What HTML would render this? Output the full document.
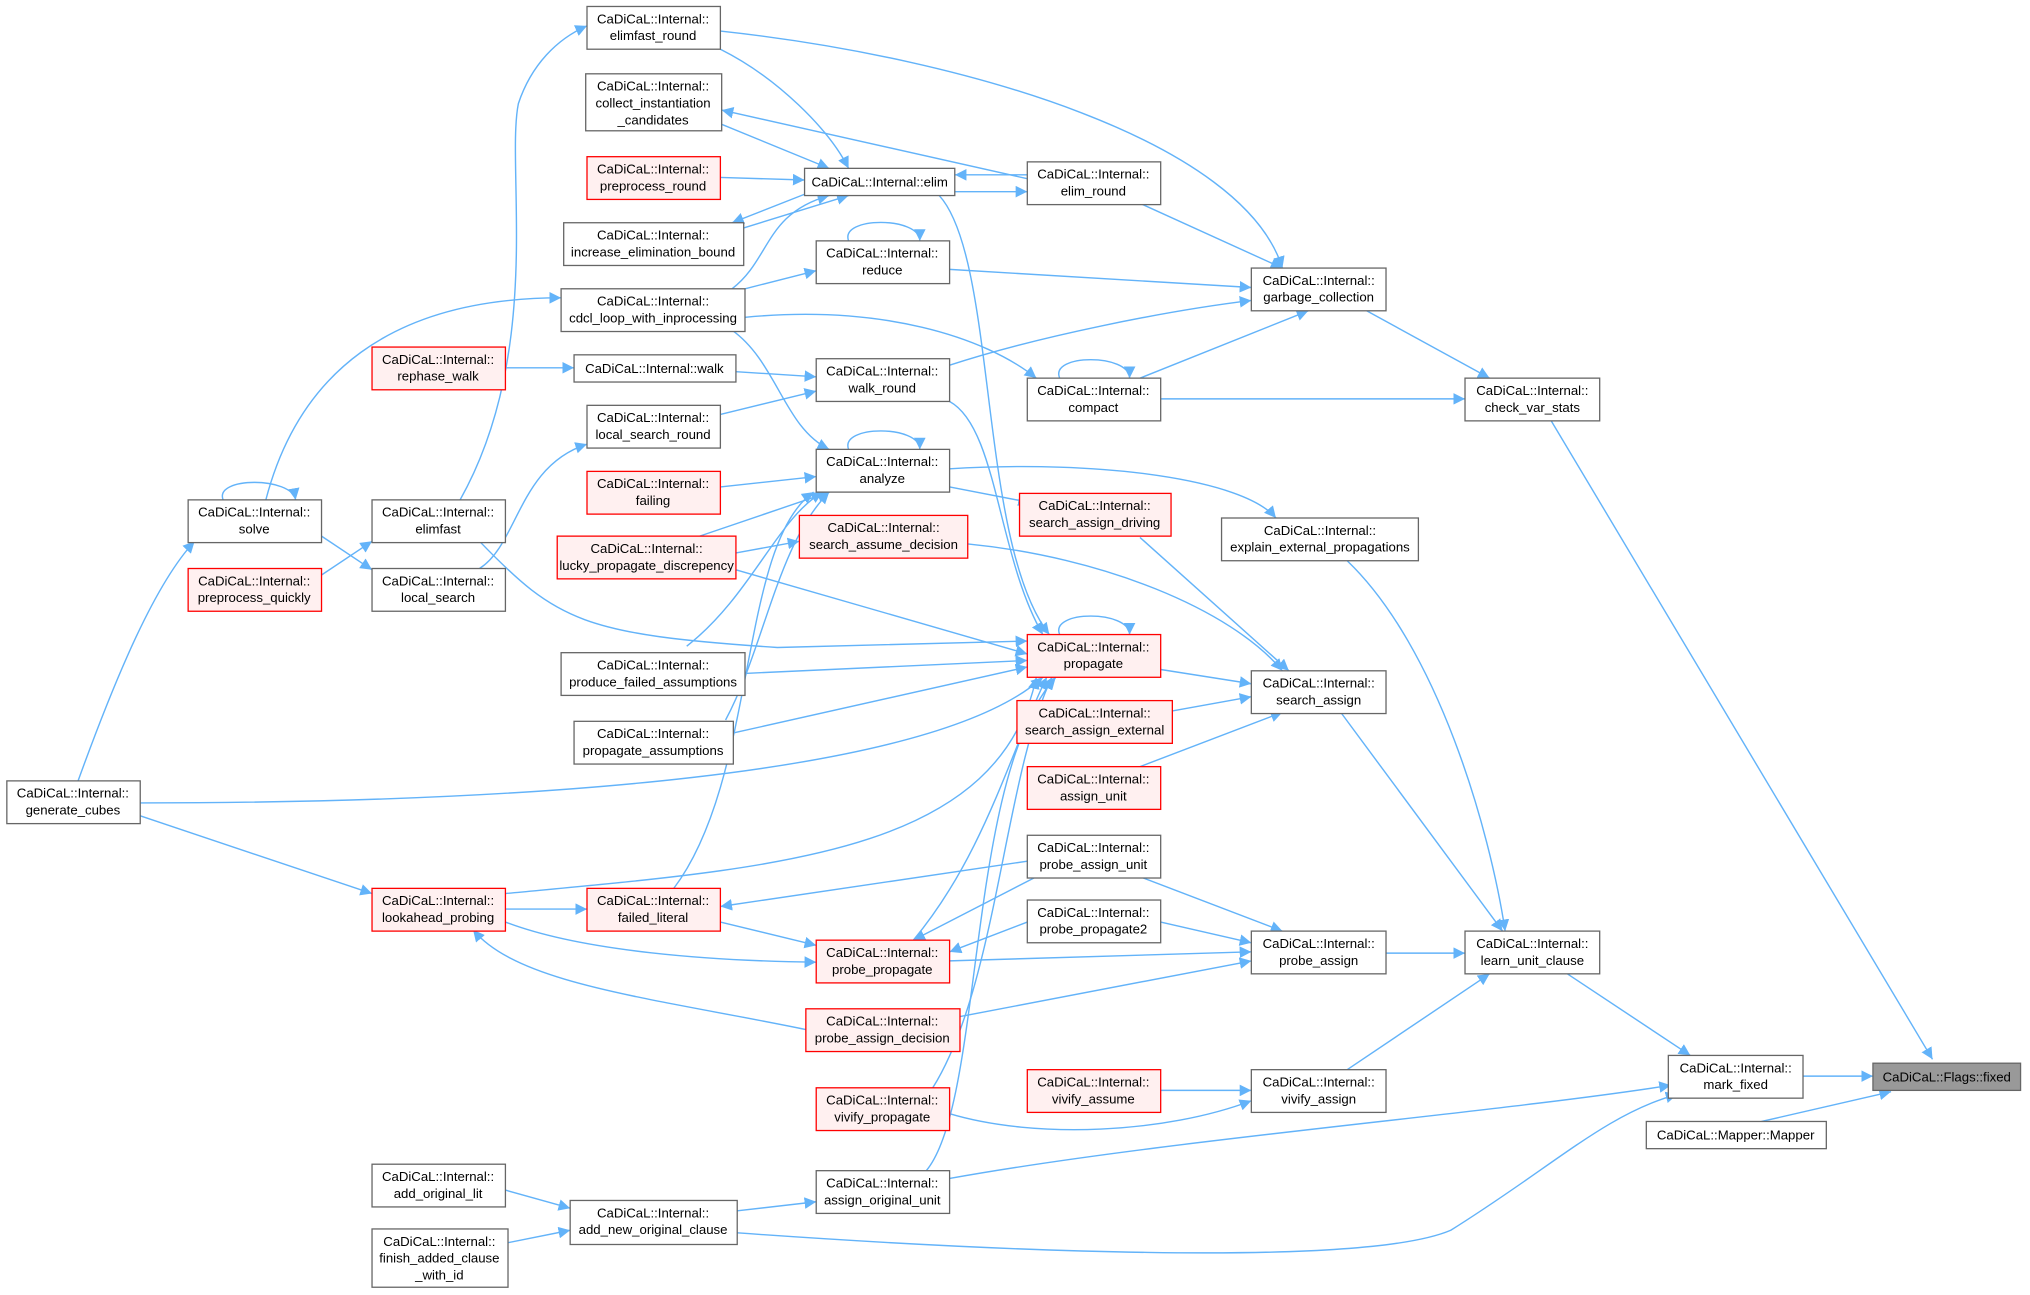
<!DOCTYPE html>
<html><head><meta charset="utf-8"><style>
html,body{margin:0;padding:0;background:#fff;}
svg{display:block;}
text{font-family:"Liberation Sans",Arial,sans-serif;font-size:10.2px;fill:#000;text-anchor:middle;}
.n rect{fill:#fff;stroke:#666;stroke-width:1;}
.r rect{fill:#fff0f0;stroke:#f00;stroke-width:1;}
.g rect{fill:#999;stroke:#666;stroke-width:1;}
path.e{fill:none;stroke:#63b3f9;stroke-width:1.1;}
</style></head><body>
<svg width="2030" height="1295" viewBox="0 0 1567 1000" xmlns="http://www.w3.org/2000/svg">
<defs><marker id="a" viewBox="0 0 10 10" refX="10" refY="5" markerWidth="9" markerHeight="9" markerUnits="userSpaceOnUse" orient="auto"><path d="M0,0 L10,5 L0,10 z" fill="#63b3f9"/></marker></defs>
<g marker-end="url(#a)">
<path class="e" d="M1197,324 L1492,818"/>
<path class="e" d="M1392,831 L1446,831"/>
<path class="e" d="M1360,866 L1460,843"/>
<path class="e" d="M1210,752 L1305,815"/>
<path class="e" d="M733,910 C900,880 1150,860 1290,838"/>
<path class="e" d="M569,952 C750,965 1050,980 1120,950 C1200,900 1240,860 1295,845"/>
<path class="e" d="M1035,550 L1160,719"/>
<path class="e" d="M1040,433 C1110,500 1150,640 1162,719"/>
<path class="e" d="M1070,736 L1131,736"/>
<path class="e" d="M1040,826 L1150,752"/>
<path class="e" d="M1055,240 L1150,292"/>
<path class="e" d="M896,308 L1131,308"/>
<path class="e" d="M556,24 C750,45 960,110 990,207"/>
<path class="e" d="M880,157 L990,207"/>
<path class="e" d="M733,208 L966,222"/>
<path class="e" d="M733,282 C800,260 900,240 966,232"/>
<path class="e" d="M880,292 L1010,240"/>
<path class="e" d="M575,245 C680,235 760,260 800,292"/>
<path class="e" d="M556,38 C600,60 640,100 655,130"/>
<path class="e" d="M793,138 L557,85"/>
<path class="e" d="M557,96 L640,130"/>
<path class="e" d="M556,137 L621,139"/>
<path class="e" d="M621,150 L565,172"/>
<path class="e" d="M574,176 L655,151"/>
<path class="e" d="M565,223 C595,200 590,165 640,151"/>
<path class="e" d="M793,135 L737,135"/>
<path class="e" d="M737,148 L793,148"/>
<path class="e" d="M725,151 C770,200 755,420 810,490"/>
<path class="e" d="M575,223 L630,209"/>
<path class="e" d="M390,284 L443,284"/>
<path class="e" d="M568,287 L630,291"/>
<path class="e" d="M556,320 L630,302"/>
<path class="e" d="M733,310 C770,330 770,430 805,490"/>
<path class="e" d="M205,386 C230,290 300,230 433,230"/>
<path class="e" d="M355,386 C420,270 390,130 400,80 C410,50 430,30 453,20"/>
<path class="e" d="M248,414 L287,440"/>
<path class="e" d="M248,444 L287,418"/>
<path class="e" d="M370,439 C400,420 400,360 453,343"/>
<path class="e" d="M370,418 C430,480 450,490 600,500 L793,495"/>
<path class="e" d="M565,255 C600,280 605,330 640,347"/>
<path class="e" d="M556,376 L630,368"/>
<path class="e" d="M540,414 L640,380"/>
<path class="e" d="M733,376 L795,388"/>
<path class="e" d="M733,362 C850,355 960,370 985,400"/>
<path class="e" d="M530,499 C580,460 600,400 635,380"/>
<path class="e" d="M560,556 C590,500 600,420 640,380"/>
<path class="e" d="M520,686 C585,600 570,420 628,380"/>
<path class="e" d="M568,427 L617,418"/>
<path class="e" d="M747,420 C850,430 950,470 990,518"/>
<path class="e" d="M880,415 L995,518"/>
<path class="e" d="M896,517 L966,528"/>
<path class="e" d="M905,549 L966,538"/>
<path class="e" d="M880,592 L990,550"/>
<path class="e" d="M568,440 L793,505"/>
<path class="e" d="M575,520 L793,510"/>
<path class="e" d="M566,566 L793,515"/>
<path class="e" d="M108,620 C400,620 720,600 805,523"/>
<path class="e" d="M390,690 C600,670 770,660 800,523"/>
<path class="e" d="M705,726 C760,660 780,580 808,523"/>
<path class="e" d="M720,840 C770,760 775,600 812,523"/>
<path class="e" d="M715,904 C760,850 745,600 815,523"/>
<path class="e" d="M60,603 C90,520 120,450 150,418"/>
<path class="e" d="M108,630 L287,690"/>
<path class="e" d="M390,702 L453,702"/>
<path class="e" d="M793,665 L556,700"/>
<path class="e" d="M800,677 L705,726"/>
<path class="e" d="M793,712 L733,735"/>
<path class="e" d="M556,712 L630,730"/>
<path class="e" d="M390,712 C450,735 550,742 630,743"/>
<path class="e" d="M622,795 C500,770 400,760 365,718"/>
<path class="e" d="M880,677 L990,719"/>
<path class="e" d="M896,712 L966,728"/>
<path class="e" d="M733,742 L966,735"/>
<path class="e" d="M741,785 L966,742"/>
<path class="e" d="M896,842 L966,842"/>
<path class="e" d="M733,860 C800,880 900,875 966,850"/>
<path class="e" d="M390,919 L440,933"/>
<path class="e" d="M390,960 L440,950"/>
<path class="e" d="M569,935 L630,928"/>
<path class="e" d="M172,386 C165,368 225,368 228,386"/>
<path class="e" d="M655,347 C648,328 710,328 710,347"/>
<path class="e" d="M655,186 C648,167 710,167 710,186"/>
<path class="e" d="M818,292 C810,273 872,273 872,292"/>
<path class="e" d="M818,490 C810,471 872,471 872,490"/>
</g>
<g class="n"><rect x="453" y="5" width="103" height="33"/><text x="504" y="18">CaDiCaL::Internal::</text><text x="504" y="31">elimfast_round</text></g>
<g class="n"><rect x="452" y="57" width="105" height="44"/><text x="504" y="70">CaDiCaL::Internal::</text><text x="504" y="83">collect_instantiation</text><text x="504" y="96">_candidates</text></g>
<g class="r"><rect x="453" y="121" width="103" height="33"/><text x="504" y="134">CaDiCaL::Internal::</text><text x="504" y="147">preprocess_round</text></g>
<g class="n"><rect x="435" y="172" width="139" height="33"/><text x="504" y="185">CaDiCaL::Internal::</text><text x="504" y="198">increase_elimination_bound</text></g>
<g class="n"><rect x="433" y="223" width="142" height="33"/><text x="504" y="236">CaDiCaL::Internal::</text><text x="504" y="249">cdcl_loop_with_inprocessing</text></g>
<g class="r"><rect x="287" y="268" width="103" height="33"/><text x="338" y="281">CaDiCaL::Internal::</text><text x="338" y="294">rephase_walk</text></g>
<g class="n"><rect x="443" y="274" width="125" height="21"/><text x="505" y="288">CaDiCaL::Internal::walk</text></g>
<g class="n"><rect x="453" y="313" width="103" height="33"/><text x="504" y="326">CaDiCaL::Internal::</text><text x="504" y="339">local_search_round</text></g>
<g class="r"><rect x="453" y="364" width="103" height="33"/><text x="504" y="377">CaDiCaL::Internal::</text><text x="504" y="390">failing</text></g>
<g class="r"><rect x="430" y="414" width="138" height="33"/><text x="499" y="427">CaDiCaL::Internal::</text><text x="499" y="440">lucky_propagate_discrepency</text></g>
<g class="n"><rect x="145" y="386" width="103" height="33"/><text x="196" y="399">CaDiCaL::Internal::</text><text x="196" y="412">solve</text></g>
<g class="r"><rect x="145" y="439" width="103" height="33"/><text x="196" y="452">CaDiCaL::Internal::</text><text x="196" y="465">preprocess_quickly</text></g>
<g class="n"><rect x="287" y="386" width="103" height="33"/><text x="338" y="399">CaDiCaL::Internal::</text><text x="338" y="412">elimfast</text></g>
<g class="n"><rect x="287" y="439" width="103" height="33"/><text x="338" y="452">CaDiCaL::Internal::</text><text x="338" y="465">local_search</text></g>
<g class="n"><rect x="433" y="504" width="142" height="33"/><text x="504" y="517">CaDiCaL::Internal::</text><text x="504" y="530">produce_failed_assumptions</text></g>
<g class="n"><rect x="443" y="557" width="123" height="33"/><text x="504" y="570">CaDiCaL::Internal::</text><text x="504" y="583">propagate_assumptions</text></g>
<g class="n"><rect x="5" y="603" width="103" height="33"/><text x="56" y="616">CaDiCaL::Internal::</text><text x="56" y="629">generate_cubes</text></g>
<g class="r"><rect x="287" y="686" width="103" height="33"/><text x="338" y="699">CaDiCaL::Internal::</text><text x="338" y="712">lookahead_probing</text></g>
<g class="r"><rect x="453" y="686" width="103" height="33"/><text x="504" y="699">CaDiCaL::Internal::</text><text x="504" y="712">failed_literal</text></g>
<g class="n"><rect x="621" y="130" width="116" height="21"/><text x="679" y="144">CaDiCaL::Internal::elim</text></g>
<g class="n"><rect x="630" y="186" width="103" height="33"/><text x="681" y="199">CaDiCaL::Internal::</text><text x="681" y="212">reduce</text></g>
<g class="n"><rect x="630" y="277" width="103" height="33"/><text x="681" y="290">CaDiCaL::Internal::</text><text x="681" y="303">walk_round</text></g>
<g class="n"><rect x="630" y="347" width="103" height="33"/><text x="681" y="360">CaDiCaL::Internal::</text><text x="681" y="373">analyze</text></g>
<g class="r"><rect x="617" y="398" width="130" height="33"/><text x="682" y="411">CaDiCaL::Internal::</text><text x="682" y="424">search_assume_decision</text></g>
<g class="r"><rect x="793" y="490" width="103" height="33"/><text x="844" y="503">CaDiCaL::Internal::</text><text x="844" y="516">propagate</text></g>
<g class="r"><rect x="787" y="381" width="117" height="33"/><text x="845" y="394">CaDiCaL::Internal::</text><text x="845" y="407">search_assign_driving</text></g>
<g class="n"><rect x="943" y="400" width="152" height="33"/><text x="1019" y="413">CaDiCaL::Internal::</text><text x="1019" y="426">explain_external_propagations</text></g>
<g class="n"><rect x="966" y="518" width="104" height="33"/><text x="1018" y="531">CaDiCaL::Internal::</text><text x="1018" y="544">search_assign</text></g>
<g class="r"><rect x="785" y="541" width="120" height="33"/><text x="845" y="554">CaDiCaL::Internal::</text><text x="845" y="567">search_assign_external</text></g>
<g class="r"><rect x="793" y="592" width="103" height="33"/><text x="844" y="605">CaDiCaL::Internal::</text><text x="844" y="618">assign_unit</text></g>
<g class="n"><rect x="793" y="645" width="103" height="33"/><text x="844" y="658">CaDiCaL::Internal::</text><text x="844" y="671">probe_assign_unit</text></g>
<g class="n"><rect x="793" y="695" width="103" height="33"/><text x="844" y="708">CaDiCaL::Internal::</text><text x="844" y="721">probe_propagate2</text></g>
<g class="n"><rect x="966" y="719" width="104" height="33"/><text x="1018" y="732">CaDiCaL::Internal::</text><text x="1018" y="745">probe_assign</text></g>
<g class="r"><rect x="630" y="726" width="103" height="33"/><text x="681" y="739">CaDiCaL::Internal::</text><text x="681" y="752">probe_propagate</text></g>
<g class="r"><rect x="622" y="779" width="119" height="33"/><text x="681" y="792">CaDiCaL::Internal::</text><text x="681" y="805">probe_assign_decision</text></g>
<g class="r"><rect x="793" y="826" width="103" height="33"/><text x="844" y="839">CaDiCaL::Internal::</text><text x="844" y="852">vivify_assume</text></g>
<g class="r"><rect x="630" y="840" width="103" height="33"/><text x="681" y="853">CaDiCaL::Internal::</text><text x="681" y="866">vivify_propagate</text></g>
<g class="n"><rect x="966" y="826" width="104" height="33"/><text x="1018" y="839">CaDiCaL::Internal::</text><text x="1018" y="852">vivify_assign</text></g>
<g class="n"><rect x="630" y="904" width="103" height="33"/><text x="681" y="917">CaDiCaL::Internal::</text><text x="681" y="930">assign_original_unit</text></g>
<g class="n"><rect x="287" y="899" width="103" height="33"/><text x="338" y="912">CaDiCaL::Internal::</text><text x="338" y="925">add_original_lit</text></g>
<g class="n"><rect x="440" y="927" width="129" height="34"/><text x="504" y="940">CaDiCaL::Internal::</text><text x="504" y="953">add_new_original_clause</text></g>
<g class="n"><rect x="287" y="949" width="105" height="45"/><text x="339" y="962">CaDiCaL::Internal::</text><text x="339" y="975">finish_added_clause</text><text x="339" y="988">_with_id</text></g>
<g class="n"><rect x="793" y="125" width="103" height="33"/><text x="844" y="138">CaDiCaL::Internal::</text><text x="844" y="151">elim_round</text></g>
<g class="n"><rect x="966" y="207" width="104" height="33"/><text x="1018" y="220">CaDiCaL::Internal::</text><text x="1018" y="233">garbage_collection</text></g>
<g class="n"><rect x="793" y="292" width="103" height="33"/><text x="844" y="305">CaDiCaL::Internal::</text><text x="844" y="318">compact</text></g>
<g class="n"><rect x="1131" y="292" width="104" height="33"/><text x="1183" y="305">CaDiCaL::Internal::</text><text x="1183" y="318">check_var_stats</text></g>
<g class="n"><rect x="1131" y="719" width="104" height="33"/><text x="1183" y="732">CaDiCaL::Internal::</text><text x="1183" y="745">learn_unit_clause</text></g>
<g class="n"><rect x="1288" y="815" width="104" height="33"/><text x="1340" y="828">CaDiCaL::Internal::</text><text x="1340" y="841">mark_fixed</text></g>
<g class="g"><rect x="1446" y="821" width="114" height="21"/><text x="1503" y="835">CaDiCaL::Flags::fixed</text></g>
<g class="n"><rect x="1271" y="866" width="139" height="21"/><text x="1340" y="880">CaDiCaL::Mapper::Mapper</text></g>
</svg>
</body></html>
